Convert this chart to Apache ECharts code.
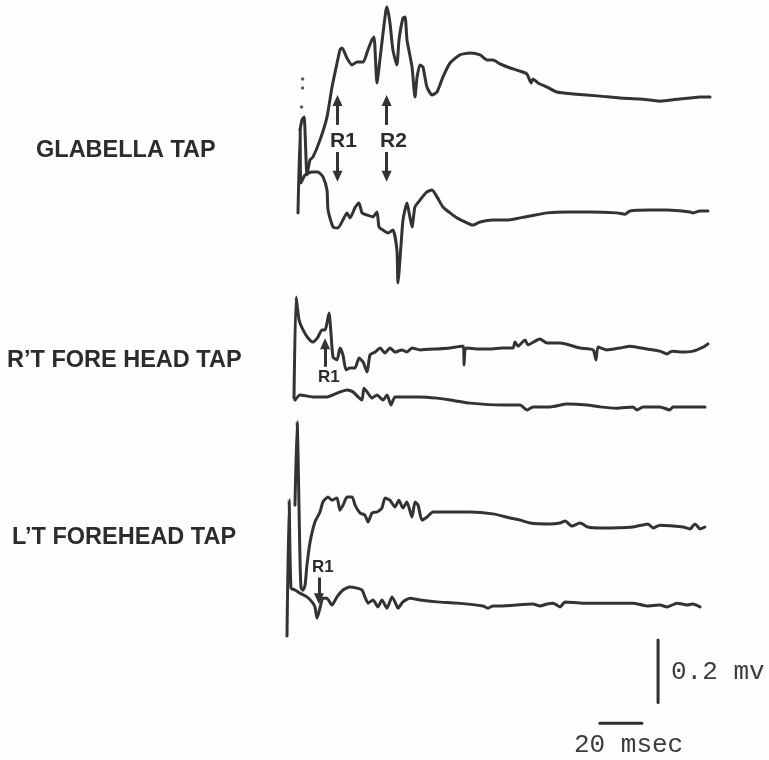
<!DOCTYPE html>
<html>
<head>
<meta charset="utf-8">
<script src="https://cdn.jsdelivr.net/npm/echarts@6/dist/echarts.min.js"></script>
<style>
html,body{margin:0;padding:0;background:#fefefd;}
#chart{width:769px;height:760px;}
</style>
</head>
<body>
<div id="chart"></div>
<script>
// ---- Data: [time (ms after tap), amplitude (µV)] ----
const panelLabels = ['GLABELLA TAP', 'R\u2019T FORE HEAD TAP', 'L\u2019T FOREHEAD TAP'];

const glabellaTop = [[1,-102],[1.9,-70],[2.9,-61],[4.3,-246],[5.7,-198],[7.1,-189],[10.5,-134],[13.8,-61],[16.2,35],[18.6,112],[20,154],[21,160],[23.3,128],[25.7,106],[28.1,115],[31,115],[33.3,154],[35.2,186],[36.2,195],[37.6,48],[39,122],[40.5,208],[41.9,282],[42.4,291],[43.8,240],[45.2,154],[47.1,106],[48.1,186],[50,256],[51,259],[51.9,186],[54.3,99],[55.7,3],[56.7,67],[58.1,106],[59.5,99],[61.4,35],[63.8,10],[66.2,19],[69,67],[72.4,112],[77.1,138],[81.9,144],[86.7,138],[90,122],[92.9,122],[96.2,109],[101,96],[105.7,86],[109,77],[111,48],[111.9,61],[114.3,48],[118.6,35],[123.3,19],[131,13],[143.8,6],[153.3,0],[162.9,-3],[172.4,-10],[181.9,-3],[186.7,0],[191.4,3],[196.2,3]];

const glabellaBottom = [[0,-6],[1,266],[1.4,90],[3.3,115],[6.7,125],[9.5,125],[11.9,109],[13.8,67],[14.3,3],[16.7,-51],[19,-54],[21.4,-29],[23.3,-6],[24.8,-22],[27.1,10],[29,26],[30.5,-6],[32.9,-13],[35.7,-19],[37.6,-3],[38.6,-51],[40.5,-61],[42.9,-70],[45.2,-61],[47.1,-125],[47.6,-230],[49,-115],[50,-29],[51.9,26],[52.9,-6],[54.3,-51],[55.7,13],[58.1,35],[61.4,61],[63.8,67],[66.2,45],[69,13],[72.4,-6],[75.7,-22],[80.5,-38],[83.3,-45],[86.7,-35],[92.9,-29],[99.5,-29],[105.7,-22],[110.5,-16],[118.6,-6],[128.1,-3],[139,-3],[151.9,-6],[155.7,-10],[158.1,0],[167.6,3],[175.7,3],[186.7,-3],[188.1,-6],[191.4,0],[195.2,0]];

const glabellaDots = [[2.2,61],[2.2,32],[1.7,-29]];

const rtTop = [[0,-160],[1,163],[2.4,90],[4.3,58],[6.7,32],[9,19],[11.4,35],[13.3,58],[14.8,58],[15.7,80],[16.7,112],[17.6,48],[18.6,-29],[20.5,-38],[21.9,0],[23.3,-22],[24.8,-70],[26.7,-64],[29,-64],[31,-32],[32.9,-45],[34.8,-77],[36.2,-22],[38.6,-13],[41,0],[43.3,-16],[45.7,0],[48.1,-13],[51.4,-6],[53.8,-13],[56.2,0],[60,-6],[68.1,-3],[74.3,0],[80,6],[80.7,6],[81,-54],[81.4,-6],[82.4,0],[87.1,-3],[93.3,-3],[99.5,0],[104.3,0],[105.2,19],[106.7,6],[110,26],[111.4,10],[117.1,29],[120.5,16],[126.7,16],[136.2,0],[142.4,-6],[143.8,-38],[144.8,3],[149,-6],[155.2,0],[160,6],[168.1,-3],[174.3,-10],[177.6,-19],[180,-10],[183.8,-13],[190,-10],[194.8,3],[197.1,13]];

const rtBottom = [[0.5,16],[2.9,32],[9,26],[15.7,26],[20.5,38],[25.2,48],[28.1,42],[30.5,26],[32.4,16],[33.3,54],[35.2,38],[37.1,22],[39.5,32],[42.4,16],[44.3,32],[46.2,0],[48.1,26],[51.9,26],[60,26],[68.1,22],[74.3,16],[83.8,6],[99.5,0],[107.6,0],[111,-16],[113.8,-6],[122,-6],[130,3],[139.5,0],[145.7,-6],[153.8,-10],[161.4,-6],[163.3,-16],[166.2,-6],[174.3,-6],[179,-16],[180.5,-6],[187.1,-6],[195.7,-6]];

const ltTop = [[3.8,70],[4.8,336],[6.2,-106],[6.7,-195],[7.6,-202],[8.6,-186],[9.5,-122],[11,-48],[13.3,16],[15.7,48],[17.1,80],[19.5,96],[21.4,86],[23.8,93],[25.2,54],[26.7,70],[28.6,96],[31,96],[32.4,70],[34.8,45],[37.1,38],[38.6,16],[40.5,45],[42.9,48],[45.2,61],[46.7,93],[49,86],[51.4,64],[53.3,86],[55.2,61],[57.1,80],[59.5,32],[61,80],[62.4,70],[64.3,22],[66.7,32],[69.5,48],[74.3,48],[87.1,48],[98.1,42],[106.2,29],[111,22],[115.7,13],[125.2,10],[130,13],[132.4,19],[135.7,3],[139.5,13],[143.3,0],[149,-3],[164.8,0],[171.9,10],[174.3,-3],[177.6,6],[188.6,0],[191.9,-6],[194.3,10],[196.7,-6],[199,0]];

const ltBottom = [[0,-99],[1,336],[1.9,54],[3.8,48],[6.2,38],[9.5,26],[11.9,10],[13.3,-6],[14.3,-42],[15.7,-10],[17.1,22],[19,22],[21.4,0],[23.8,26],[26.7,48],[30,58],[33.3,54],[35.7,48],[37.1,26],[38.6,6],[41,16],[43.3,-6],[45.2,16],[47.6,-10],[50,26],[51.4,10],[52.9,-10],[55.2,10],[58.6,22],[63.3,16],[71.4,10],[81,6],[93.3,-3],[95.7,-10],[98.1,-3],[101.4,-3],[117.1,3],[120.5,-3],[123.8,3],[126.7,6],[130,-6],[132.4,10],[141,6],[149,6],[164.8,6],[171.4,-3],[177.6,0],[181,-6],[185.7,6],[190.5,0],[193.3,3],[196.7,-6]];

const scaleBarMs = 20;    // horizontal calibration bar
const scaleBarUv = 200;   // vertical calibration bar (0.2 mV)
const scaleLabels = ['0.2 mv', '20 msec'];

// ---- Layout ----
const PX_PER_MS = 2.1, UV_PER_PX = 3.2, Y_HALF = 300;
const INK = '#333333';
const panels = [
  {data: glabellaTop,    left: 298, base: 98},
  {data: glabellaBottom, left: 298, base: 211},
  {data: rtTop,          left: 294, base: 348},
  {data: rtBottom,       left: 294, base: 405},
  {data: ltTop,          left: 287, base: 527},
  {data: ltBottom,       left: 287, base: 605}
];

const grids = [], xAxes = [], yAxes = [], series = [];
panels.forEach((p, i) => {
  const halfPx = Y_HALF / UV_PER_PX;
  grids.push({left: p.left, top: p.base - halfPx, width: 200 * PX_PER_MS, height: 2 * halfPx});
  xAxes.push({type: 'value', gridIndex: i, min: 0, max: 200, show: false});
  yAxes.push({type: 'value', gridIndex: i, min: -Y_HALF, max: Y_HALF, show: false});
  series.push({
    type: 'line', xAxisIndex: i, yAxisIndex: i, data: p.data, showSymbol: false,
    clip: false, silent: true, smooth: 0.2,
    lineStyle: {color: INK, width: 3, join: 'round', cap: 'round'}
  });
});

const arrowStyle = {color: INK, width: 3, type: 'solid'};
function arrows(list) {
  return {
    silent: true, symbol: ['none', 'triangle'], symbolSize: [10, 11],
    lineStyle: arrowStyle, itemStyle: {color: INK}, label: {show: false}, animation: false,
    data: list.map(a => [{coord: a[0]}, {coord: a[1]}])
  };
}
// Glabella: R1 / R2 arrows (up and down)
series[0].markLine = arrows([
  [[18.8, -86], [18.8, -8]], [[18.8, -173], [18.8, -250]],
  [[42.2, -86], [42.2, -8]], [[42.2, -173], [42.2, -250]]
]);
// R't forehead: R1 up arrow
series[2].markLine = arrows([[[14.8, -60], [14.8, 14]]]);
// L't forehead: R1 down arrow
series[5].markLine = arrows([[[15.2, 88], [15.2, 20]]]);

// Dots near the glabella stimulus
series.push({type: 'scatter', xAxisIndex: 0, yAxisIndex: 0, data: glabellaDots,
  symbolSize: 3.5, itemStyle: {color: INK}, silent: true, clip: false});

// Calibration bars drawn in the last panel's scale
series.push({type: 'line', xAxisIndex: 5, yAxisIndex: 5, showSymbol: false, clip: false, silent: true,
  data: [[176.7, -112], [176.7, -112 - scaleBarUv]],
  lineStyle: {color: '#2e2e2e', width: 3, cap: 'round'}});
series.push({type: 'line', xAxisIndex: 5, yAxisIndex: 5, showSymbol: false, clip: false, silent: true,
  data: [[149, -378], [149 + scaleBarMs, -378]],
  lineStyle: {color: '#2e2e2e', width: 3, cap: 'round'}});

const sans = '"Liberation Sans", Arial, Helvetica, sans-serif';
const mono = '"Liberation Mono", "Courier New", monospace';
function txt(text, x, y, size, font, weight, fill) {
  return {type: 'text', left: x, top: y, silent: true,
    style: {text: text, fill: fill || '#2c2c2c', font: weight + ' ' + size + 'px ' + font, textVerticalAlign: 'middle'}};
}

const option = {
  backgroundColor: '#fefefd',
  animation: false,
  grid: grids, xAxis: xAxes, yAxis: yAxes, series: series,
  graphic: [
    txt(panelLabels[0], 36, 139, 23.5, sans, 'bold'),
    txt(panelLabels[1], 7, 349, 23.5, sans, 'bold'),
    txt(panelLabels[2], 12, 526, 23.5, sans, 'bold'),
    txt('R1', 330, 131, 21, sans, 'bold'),
    txt('R2', 380, 131, 21, sans, 'bold'),
    txt('R1', 318, 369, 17, sans, 'bold'),
    txt('R1', 312, 559, 17, sans, 'bold'),
    txt(scaleLabels[0], 671, 659, 26, mono, 'normal', '#3c3c3c'),
    txt(scaleLabels[1], 574, 732, 26, mono, 'normal', '#3c3c3c')
  ]
};

const chart = echarts.init(document.getElementById('chart'), null, {renderer: 'canvas'});
chart.setOption(option);
</script>
</body>
</html>
